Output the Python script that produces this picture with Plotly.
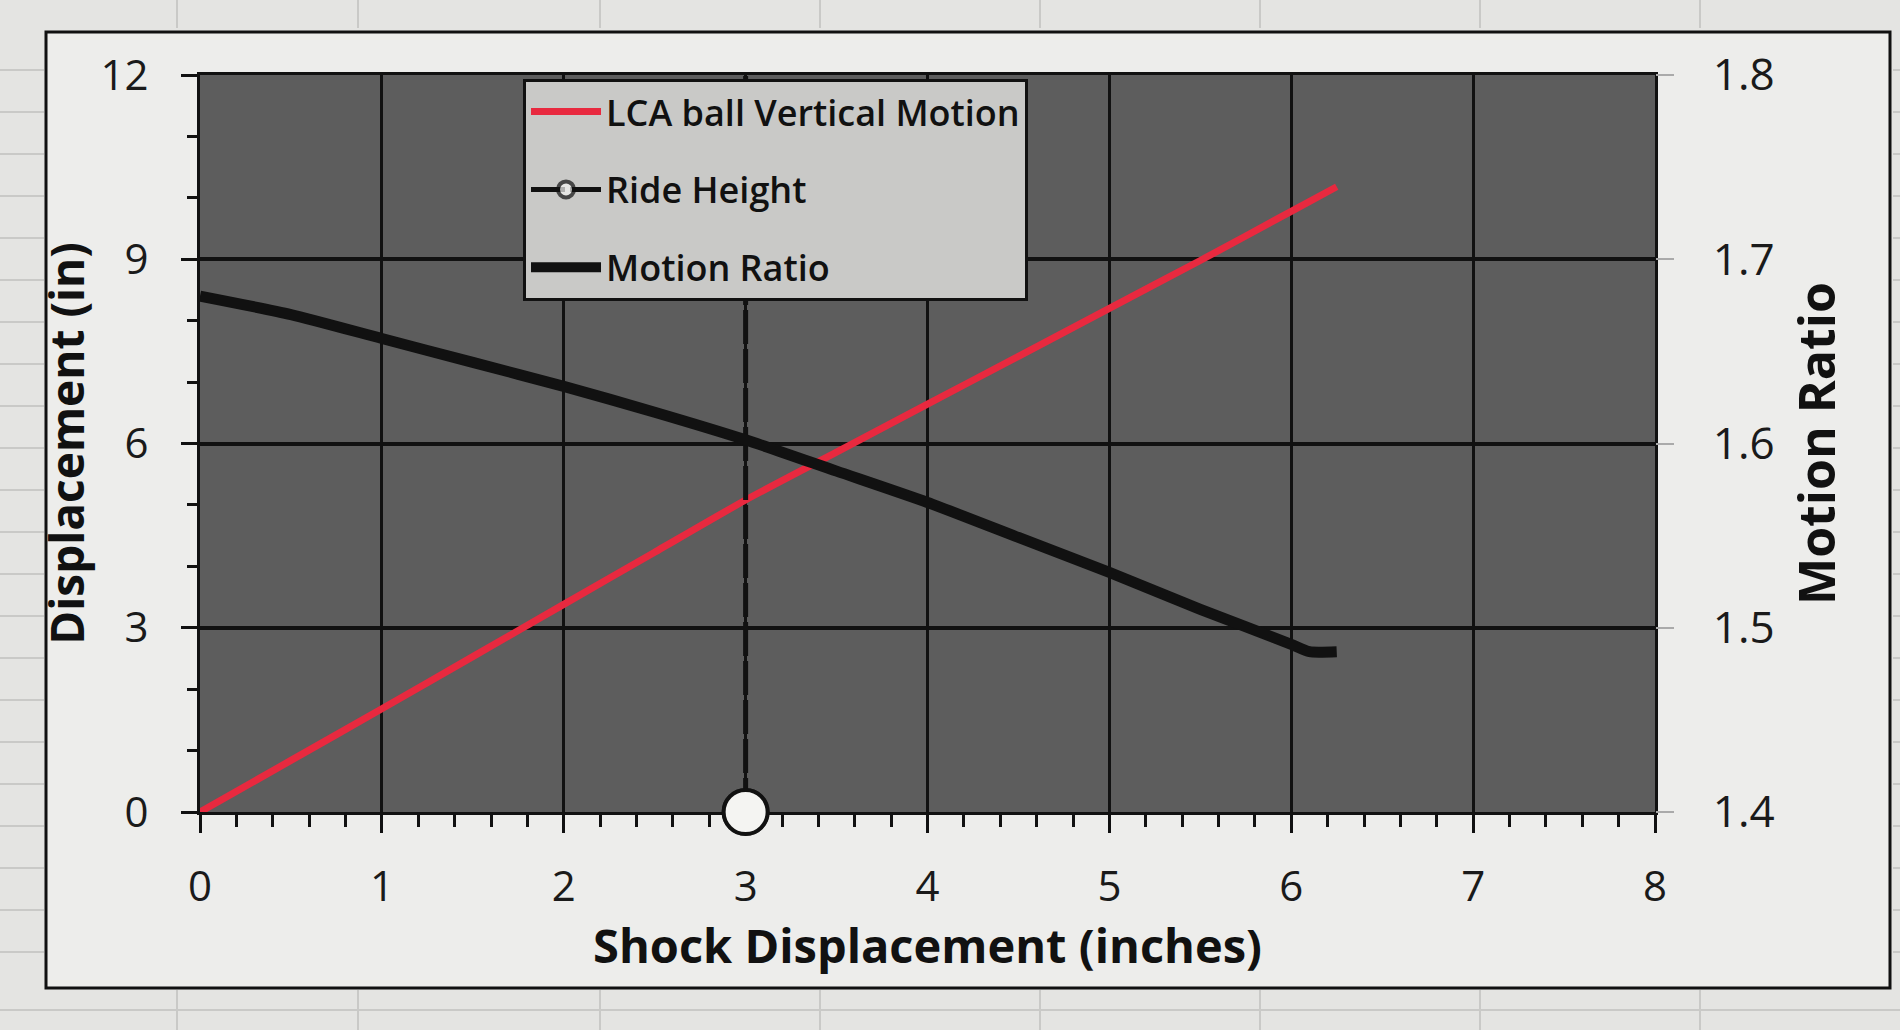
import plotly.graph_objects as go

# ---- data ----
lca_x = [0, 0.5, 1, 1.5, 2, 2.5, 3, 3.5, 4, 4.5, 5, 5.5, 6, 6.25]
lca_y = [0, 0.84, 1.68, 2.53, 3.38, 4.23, 5.08, 5.86, 6.64, 7.42, 8.20, 8.98, 9.78, 10.18]

mr_x = [0, 0.5, 1, 1.5, 2, 2.5, 3, 3.5, 4, 4.5, 5, 5.5, 6, 6.1, 6.25]
mr_y = [1.680, 1.670, 1.657, 1.644, 1.631, 1.617, 1.602, 1.585, 1.568, 1.549,
        1.530, 1.510, 1.491, 1.487, 1.487]

ride_x = [3, 3]
ride_y = [0, 12]

x_ticks = [0, 1, 2, 3, 4, 5, 6, 7, 8]
y_ticks = [0, 3, 6, 9, 12]
y2_ticks = [1.4, 1.5, 1.6, 1.7, 1.8]

FONT = "Open Sans"

# layout geometry (pixels) used for decorative shapes only
ML, MR, MT, MB = 200, 245, 75, 218
W, H = 1900, 1030
PW, PH = W - ML - MR, H - MT - MB


def px(x):
    return (x - ML) / PW


def py(y):
    return (H - MB - y) / PH


fig = go.Figure()

fig.add_trace(go.Scatter(
    x=lca_x, y=lca_y, mode="lines", name="LCA ball Vertical Motion",
    line=dict(color="#e8293f", width=7, shape="spline", smoothing=0.6), legendgroup="a",
))
fig.add_trace(go.Scatter(
    x=ride_x, y=ride_y, mode="lines+markers", name="Ride Height",
    line=dict(color="#111111", width=5, dash="34px,5px"),
    marker=dict(symbol="circle", size=[44, 0], color="#f4f4f2",
                line=dict(color="#111111", width=4)),
    cliponaxis=False, legendgroup="b",
))
fig.add_trace(go.Scatter(
    x=mr_x, y=mr_y, mode="lines", name="Motion Ratio", yaxis="y2",
    line=dict(color="#111111", width=11, shape="spline", smoothing=0.6), legendgroup="c",
))
# ride-height point drawn on top of everything
fig.add_trace(go.Scatter(
    x=ride_x[:1], y=ride_y[:1], mode="markers", showlegend=False,
    marker=dict(symbol="circle", size=44, color="#f4f4f2", opacity=1,
                line=dict(color="#111111", width=4)),
    cliponaxis=False, hoverinfo="skip",
))

shapes = []
cell = "#c9c9c7"
for xx in [177, 358, 600, 820, 1040, 1260, 1480, 1700]:
    shapes.append(dict(type="line", xref="paper", yref="paper",
                       x0=px(xx), x1=px(xx), y0=py(990), y1=py(1030),
                       line=dict(color=cell, width=2), layer="below"))
    shapes.append(dict(type="line", xref="paper", yref="paper",
                       x0=px(xx), x1=px(xx), y0=py(0), y1=py(28),
                       line=dict(color=cell, width=2), layer="below"))
for yy in [70, 112, 154, 196, 238, 280, 322, 364, 406, 448, 490, 532, 574,
           616, 658, 700, 742, 784, 826, 868, 910, 952]:
    shapes.append(dict(type="line", xref="paper", yref="paper",
                       x0=px(0), x1=px(44), y0=py(yy), y1=py(yy),
                       line=dict(color=cell, width=2), layer="below"))
    shapes.append(dict(type="line", xref="paper", yref="paper",
                       x0=px(1893), x1=px(1900), y0=py(yy), y1=py(yy),
                       line=dict(color=cell, width=2), layer="below"))
shapes.append(dict(type="line", xref="paper", yref="paper",
                   x0=px(0), x1=px(1900), y0=py(1010), y1=py(1010),
                   line=dict(color=cell, width=2), layer="below"))
# chart frame
shapes.append(dict(
    type="rect", xref="paper", yref="paper",
    x0=px(46), x1=px(1890), y0=py(988), y1=py(32),
    line=dict(color="#111111", width=3), fillcolor="#ededeb", layer="below",
))
# plot area fill (above the frame fill)
shapes.append(dict(
    type="rect", xref="paper", yref="paper", x0=0, x1=1, y0=0, y1=1,
    line=dict(width=0), fillcolor="#5d5d5d", layer="below",
))

fig.update_layout(
    width=W, height=H,
    margin=dict(l=ML, r=MR, t=MT, b=MB),
    paper_bgcolor="#e4e4e2",
    plot_bgcolor="#5d5d5d",
    font=dict(family=FONT, color="#1a1a1a"),
    showlegend=True,
    legend=dict(
        x=0.222, y=0.995, xanchor="left", yanchor="top",
        bgcolor="#c9c9c7", bordercolor="#111111", borderwidth=3,
        font=dict(family=FONT, size=36, color="#111111", weight=600),
        traceorder="grouped", tracegroupgap=28, itemwidth=70,
    ),
    xaxis=dict(
        range=[0, 8], tickvals=x_ticks, showgrid=True, gridcolor="#111111", gridwidth=3,
        showline=True, linecolor="#111111", linewidth=3, mirror=True,
        layer="below traces",
        ticks="outside", ticklen=18, tickwidth=3, tickcolor="#111111",
        minor=dict(dtick=0.2, ticks="outside", ticklen=12, tickwidth=3, tickcolor="#111111", showgrid=False),
        tickfont=dict(size=42, color="#1a1a1a"), ticklabelstandoff=18,
        title=dict(text="Shock Displacement (inches)", font=dict(size=47, weight="bold", color="#111111"), standoff=14),
        zeroline=False,
    ),
    yaxis=dict(
        range=[0, 12], tickvals=y_ticks, showgrid=True, gridcolor="#111111", gridwidth=4,
        showline=True, linecolor="#111111", linewidth=3, mirror=True,
        layer="below traces",
        ticks="outside", ticklen=16, tickwidth=3, tickcolor="#111111",
        minor=dict(dtick=1, ticks="outside", ticklen=10, tickwidth=3, tickcolor="#111111", showgrid=False),
        tickfont=dict(size=42, color="#1a1a1a"), ticklabelstandoff=24,
        title=dict(text="Displacement (in)", font=dict(size=46, weight="bold", color="#111111"), standoff=2),
        zeroline=False,
    ),
    yaxis2=dict(
        range=[1.4, 1.8], tickvals=y2_ticks, overlaying="y", side="right",
        showgrid=False, showline=False, zeroline=False,
        ticks="outside", ticklen=18, tickwidth=2, tickcolor="#aaaaaa",
        tickfont=dict(size=44, color="#1a1a1a"), ticklabelstandoff=30,
        tickformat=".1f",
        title=dict(text="Motion Ratio", font=dict(size=50, weight="bold", color="#111111"), standoff=26),
    ),
    shapes=shapes,
)

fig.write_html("out.html")
